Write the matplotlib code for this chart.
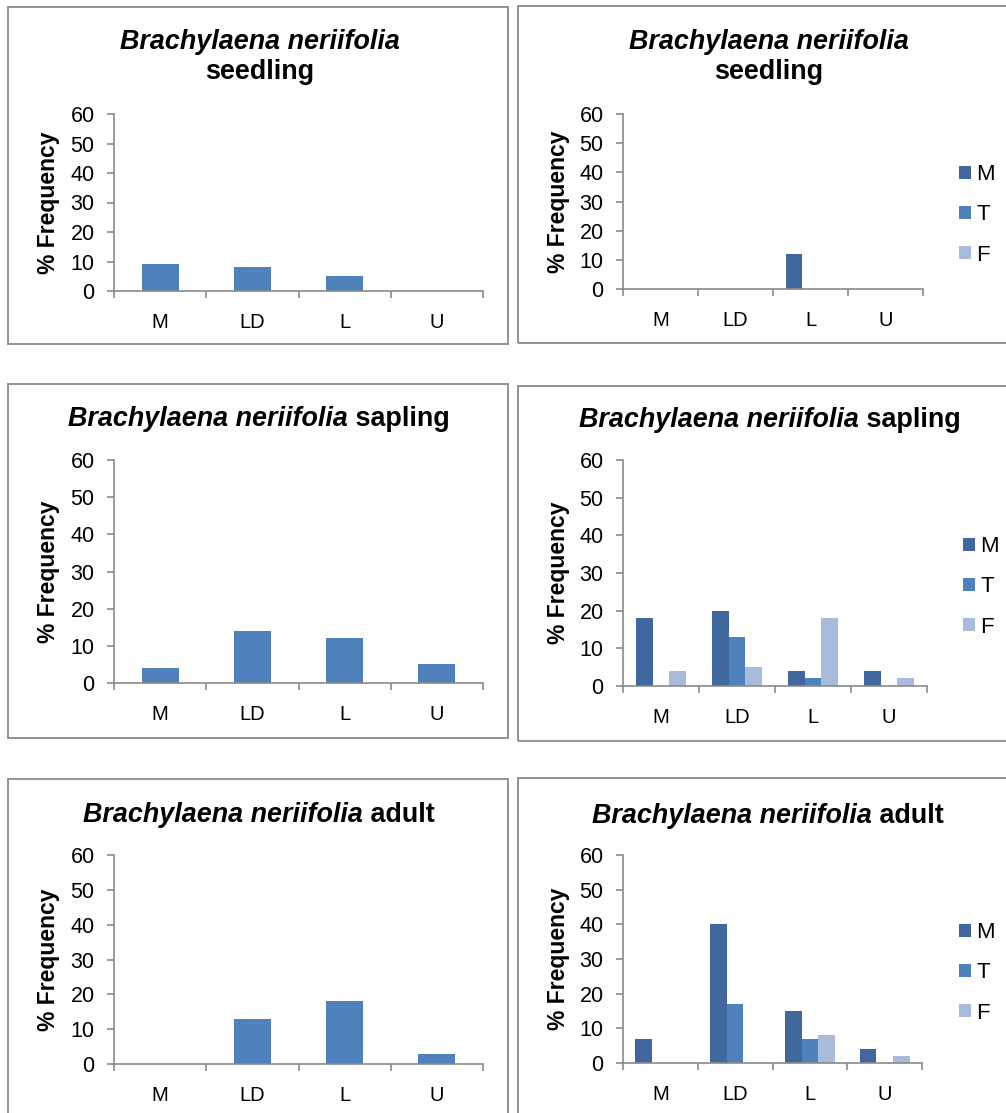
import matplotlib
matplotlib.use('Agg')
import matplotlib.pyplot as plt
from matplotlib.patches import Rectangle
import numpy as np

plt.rcParams['font.family'] = ['Liberation Sans', 'DejaVu Sans']

# data
categories = ['M', 'LD', 'L', 'U']
series_names = ['M', 'T', 'F']

seedling_all = [9, 8, 5, 0]
sapling_all = [4, 14, 12, 5]
adult_all = [0, 13, 18, 3]

seedling_M = [0, 0, 12, 0]
seedling_T = [0, 0, 0, 0]
seedling_F = [0, 0, 0, 0]

sapling_M = [18, 20, 4, 4]
sapling_T = [0, 13, 2, 0]
sapling_F = [4, 5, 18, 2]

adult_M = [7, 40, 15, 4]
adult_T = [0, 17, 7, 0]
adult_F = [0, 0, 8, 2]

W, H = 1006, 1113
blue = '#4F81BD'
series_colors = ['#41689C', '#4F81BD', '#A9BBDB']
grey = '#8A8A8A'

fig = plt.figure(figsize=(W / 100, H / 100), dpi=100)
renderer = fig.canvas.get_renderer()


def fx(px):
    return px / W


def fy(py):
    return 1 - py / H


def box(x0, y0, x1, y1):
    fig.patches.append(Rectangle((fx(x0), fy(y1)), fx(x1) - fx(x0), fy(y0) - fy(y1),
                                 transform=fig.transFigure, fill=False,
                                 edgecolor=grey, linewidth=1.3))


def make_axes(x0, y0, x1, y1, ylab_x):
    ax = fig.add_axes([fx(x0), fy(y1), fx(x1) - fx(x0), fy(y0) - fy(y1)])
    ax.set_xlim(-0.5, 3.5)
    ax.set_ylim(0, 60)
    ax.set_yticks(range(0, 61, 10))
    ax.set_xticks(np.arange(-0.5, 4, 1))
    ax.set_xticklabels([])
    ax.set_xticks(range(4), minor=True)
    ax.set_xticklabels(categories, minor=True)
    for s in ['top', 'right']:
        ax.spines[s].set_visible(False)
    for s in ['left', 'bottom']:
        ax.spines[s].set_color(grey)
        ax.spines[s].set_linewidth(1.2)
    ax.tick_params(axis='both', which='major', direction='out', length=5,
                   width=1.2, color=grey)
    ax.tick_params(axis='y', pad=9, labelsize=15.5)
    ax.tick_params(axis='x', which='minor', length=0, pad=16, labelsize=14.5)
    ax.set_ylabel('% Frequency', fontsize=16.5, fontweight='bold')
    # label anchor is its right edge once rotated
    ax.yaxis.set_label_coords((ylab_x - x0) / (x1 - x0), 0.5)
    return ax


def title_line(xc, yb, parts, size=19.4):
    # parts: list of (text, style) placed side by side, centered on xc
    texts = []
    for txt, style in parts:
        t = fig.text(0, fy(yb), txt, fontsize=size, fontweight='bold',
                     fontstyle=style, ha='left', va='baseline')
        texts.append(t)
    widths = [t.get_window_extent(renderer).width for t in texts]
    x = xc - sum(widths) / 2
    for t, w in zip(texts, widths):
        t.set_x(fx(x))
        x += w


def single(ax, vals):
    ax.bar(range(4), vals, width=0.4, color=blue, edgecolor='none')


def grouped(ax, vals_list, legend_x, legend_yc):
    w = 1 / 4.5
    x = np.arange(4)
    handles = []
    for i, (vals, c) in enumerate(zip(vals_list, series_colors)):
        b = ax.bar(x + (i - 1) * w, vals, width=w, color=c, edgecolor='none')
        handles.append(b)
    fig.legend(handles, series_names, loc='center left',
               bbox_to_anchor=(fx(legend_x), fy(legend_yc)),
               bbox_transform=fig.transFigure, frameon=False, fontsize=16,
               handlelength=0.52, handleheight=0.52, handletextpad=0.25,
               labelspacing=0.86, borderpad=0, borderaxespad=0)


sp = 'Brachylaena neriifolia'

# frames
box(8, 7, 508, 344)
box(518, 6, 1012, 343)
box(8, 384, 508, 738)
box(518, 386, 1012, 741)
box(8, 779, 508, 1120)
box(518, 778, 1012, 1120)

# seedling
ax = make_axes(114, 114, 483, 291, 60)
single(ax, seedling_all)
title_line(260, 49, [(sp, 'italic')])
title_line(260, 79, [('seedling', 'normal')])

ax = make_axes(623, 114, 923, 289, 570)
grouped(ax, [seedling_M, seedling_T, seedling_F], 959, 215)
title_line(769, 49, [(sp, 'italic')])
title_line(769, 79, [('seedling', 'normal')])

# sapling
ax = make_axes(114, 460, 483, 683, 60)
single(ax, sapling_all)
title_line(259, 426, [(sp, 'italic'), (' sapling', 'normal')])

ax = make_axes(623, 460, 927, 686, 570)
grouped(ax, [sapling_M, sapling_T, sapling_F], 963, 587)
title_line(770, 427, [(sp, 'italic'), (' sapling', 'normal')])

# adult
ax = make_axes(114, 855, 483, 1064, 60)
single(ax, adult_all)
title_line(259, 822, [(sp, 'italic'), (' adult', 'normal')])

ax = make_axes(623, 855, 922, 1063, 570)
grouped(ax, [adult_M, adult_T, adult_F], 959, 973)
title_line(768, 823, [(sp, 'italic'), (' adult', 'normal')])

fig.savefig('out.png', dpi=100)
